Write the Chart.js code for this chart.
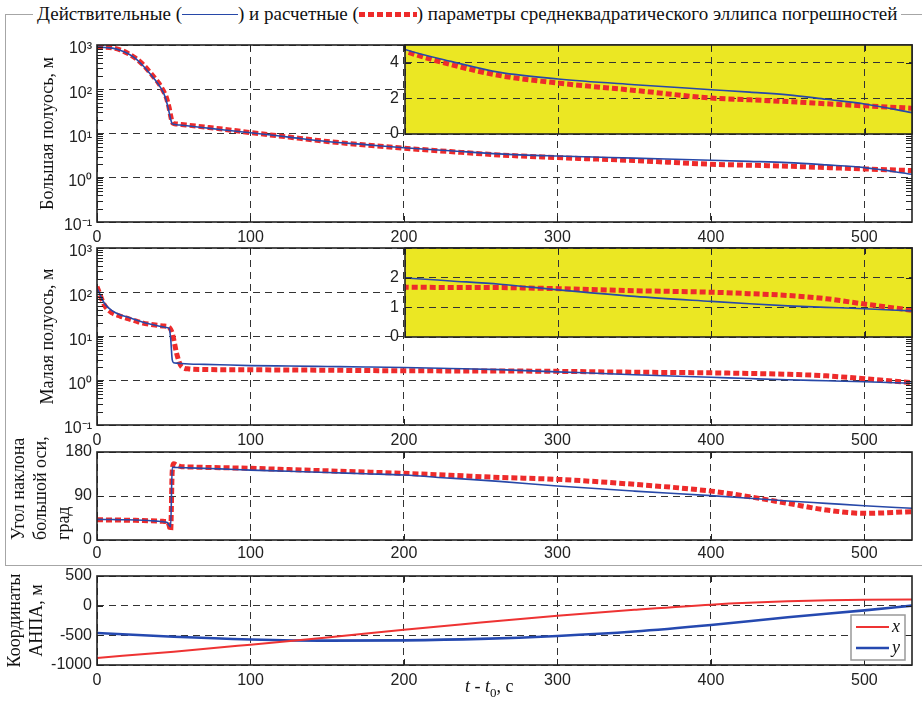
<!DOCTYPE html>
<html>
<head>
<meta charset="utf-8">
<script src="https://cdn.jsdelivr.net/npm/chart.js@4.4.0/dist/chart.umd.min.js"></script>
<style>
  body { margin: 0; background: #fff; }
  #wrap { position: relative; width: 922px; height: 707px; overflow: hidden; }
  #wrap canvas { position: absolute; left: 0; top: 0; }
  .box { position: absolute; left: 5px; top: 14px; width: 960px; height: 550px; border: 1px solid #a6a6a6; }
  .boxTitle { position: absolute; left: 33px; top: 2px; padding: 0 4px; background: #fff; white-space: nowrap;
              font: 19px 'Liberation Serif', 'Times New Roman', serif; line-height: 24px; color: #111; }
  .smpBlue { display: inline-block; width: 56px; height: 0; border-top: 1.5px solid #2748a8; vertical-align: 5px; }
  .smpRed { display: inline-block; width: 58px; height: 5px; vertical-align: 3px;
            background: repeating-linear-gradient(90deg, #ee2b2b 0 6px, transparent 6px 9px); }
  .xTitle { position: absolute; left: 465px; top: 676px; white-space: nowrap;
            font: 18px 'Liberation Serif', 'Times New Roman', serif; line-height: 20px; color: #111; }
</style>
</head>
<body>
<div id="wrap">
  <div class="box"></div>
  <div class="boxTitle">Действительные (<span class="smpBlue"></span>) и расчетные (<span class="smpRed"></span>) параметры среднеквадратического эллипса погрешностей</div>
  <canvas id="p1" width="922" height="707"></canvas>
  <canvas id="p1in" width="922" height="707"></canvas>
  <canvas id="p2" width="922" height="707"></canvas>
  <canvas id="p2in" width="922" height="707"></canvas>
  <canvas id="p3" width="922" height="707"></canvas>
  <canvas id="p4" width="922" height="707"></canvas>
  <div class="xTitle"><i>t</i> - <i>t</i><sub style="font-size:13px">0</sub>, с</div>
</div>

<script>
// time, s
const tMain = [0, 5, 10, 15, 20, 25, 30, 35, 40, 43, 45, 46, 47, 48, 49, 50, 52, 55, 60, 70, 80,
               100, 125, 150, 175, 200, 230, 262, 300, 350, 400, 425, 450, 475, 500, 531];
// major semi-axis, m
const majBlue = [900, 880, 850, 760, 640, 500, 340, 215, 130, 87, 58, 42, 30, 21, 16.6, 16.2, 15.8, 15.4, 14.8, 13.5, 12.3,
                 10.4, 8.3, 6.6, 5.6, 4.75, 4.08, 3.46, 3.09, 2.77, 2.49, 2.35, 2.20, 1.95, 1.69, 1.2];
const majRed = [920, 900, 860, 780, 650, 510, 360, 230, 140, 95, 68, 52, 38, 25, 18, 16.8, 16.4, 16.0, 15.3, 14.0, 12.8,
                10.5, 8.3, 6.6, 5.5, 4.65, 3.9, 3.28, 2.86, 2.45, 2.02, 1.92, 1.82, 1.70, 1.58, 1.45];
// minor semi-axis, m
const minBlue = [124, 55, 38, 31, 27.5, 24, 21, 19, 17.3, 16.5, 16, 15.8, 15.5, 9, 3.0, 2.55, 2.5, 2.45, 2.4, 2.35, 2.3,
                 2.2, 2.15, 2.1, 2.05, 1.99, 1.89, 1.78, 1.59, 1.37, 1.20, 1.12, 1.05, 1.0, 0.95, 0.88];
const minRed = [134, 50, 34, 29, 25.5, 22.5, 20, 18.8, 17.8, 17.3, 17, 16.8, 16.2, 14.5, 12, 8.5, 4.0, 2.1, 1.85, 1.8, 1.78,
                1.77, 1.75, 1.73, 1.7, 1.68, 1.67, 1.665, 1.63, 1.56, 1.51, 1.46, 1.40, 1.29, 1.11, 0.90];
// major axis angle, deg
const angBlue = [42.3, 42, 41.8, 41.5, 41.3, 41, 40.5, 39.5, 38.5, 37.5, 36.5, 35.5, 30, 27, 148.6, 148.5, 148.3, 148, 147.5, 146.5, 145.5,
                 143, 140.5, 138, 135.5, 133, 126.5, 120, 110.4, 100, 90.7, 85.3, 79.8, 75, 70.2, 64.8];
const angRed = [41.5, 41.2, 41, 40.8, 40.5, 40.2, 39.8, 39.3, 38.7, 38.2, 37.8, 37.4, 30, 19, 140, 156, 153, 150, 149.5, 148.5, 148,
                146.6, 144, 141.5, 139, 136.4, 132.5, 128, 124, 113.9, 100, 88.6, 75, 61.4, 54.5, 57.9];
// vehicle coordinates, m
const tCoord = [0, 50, 100, 150, 200, 250, 300, 350, 400, 450, 500, 531];
const coordX = [-881, -775, -657, -535, -404, -285, -168, -70, 17, 73, 101, 103];
const coordY = [-460, -525, -570, -590, -585, -560, -510, -435, -325, -195, -80, 0];

const timeTicks = [0, 100, 200, 300, 400, 500];
const logTicks = [0.1, 1, 10, 100, 1000];
const logTickLabels = ['10⁻¹', '10⁰', '10¹', '10²', '10³'];

const W = 922, H = 707, RIGHT = 10;
const tickFont = { family: "'Liberation Sans', Arial, sans-serif", size: 16 };
const serif = "'Liberation Serif', 'Times New Roman', serif";
const ink = '#222';
const blue = '#2748a8', red = '#ee2b2b';

const pts = (xs, ys) => xs.map((x, i) => ({ x: x, y: ys[i] }));

// box around plot area + inner tick marks (MATLAB look)
const frame = {
  id: 'frame',
  afterDraw(chart) {
    const { ctx, chartArea: a, scales } = chart;
    const ys = scales.y, xs = scales.x;
    let marks = ys.ticks.map(t => t.value);
    if (ys.type === 'logarithmic') {
      marks = [];
      for (let e = -1; e < 3; e++) for (let k = 1; k < 10; k++) marks.push(k * Math.pow(10, e));
    }
    ctx.save();
    ctx.strokeStyle = ink;
    ctx.lineWidth = 1;
    ctx.beginPath();
    marks.forEach(v => {
      const p = Math.round(ys.getPixelForValue(v)) + 0.5;
      ctx.moveTo(a.left, p); ctx.lineTo(a.left + 6, p);
      ctx.moveTo(a.right, p); ctx.lineTo(a.right - 6, p);
    });
    xs.ticks.forEach(t => {
      const p = Math.round(xs.getPixelForValue(t.value)) + 0.5;
      ctx.moveTo(p, a.top); ctx.lineTo(p, a.top + 6);
      ctx.moveTo(p, a.bottom); ctx.lineTo(p, a.bottom - 6);
    });
    ctx.stroke();
    ctx.lineWidth = 1.6;
    ctx.strokeRect(a.left, a.top, a.width, a.height);
    ctx.restore();
  }
};

const yellow = {
  id: 'yellow',
  beforeDraw(chart) {
    const { ctx, chartArea: a } = chart;
    ctx.save();
    ctx.fillStyle = '#ebe723';
    ctx.fillRect(a.left, a.top, a.width, a.height);
    ctx.restore();
  }
};

const coordLegend = {
  id: 'coordLegend',
  afterDraw(chart) {
    const { ctx, chartArea: a } = chart;
    const bx = a.right - 61, by = a.top + 39, bw = 54, bh = 45;
    ctx.save();
    ctx.fillStyle = '#fff';
    ctx.fillRect(bx, by, bw, bh);
    ctx.strokeStyle = '#999';
    ctx.lineWidth = 1.5;
    ctx.strokeRect(bx, by, bw, bh);
    chart.data.datasets.forEach((ds, i) => {
      const y = by + 12 + i * 21;
      ctx.strokeStyle = ds.borderColor;
      ctx.lineWidth = ds.borderWidth;
      ctx.beginPath(); ctx.moveTo(bx + 5, y); ctx.lineTo(bx + 38, y); ctx.stroke();
      ctx.fillStyle = '#111';
      ctx.font = 'italic 18px ' + serif;
      ctx.textBaseline = 'middle';
      ctx.fillText(ds.label, bx + 41, y);
    });
    ctx.restore();
  }
};

function xAxis(height, pad, showLabels, xmin) {
  return {
    type: 'linear', min: xmin, max: 531,
    afterBuildTicks: s => { s.ticks = timeTicks.filter(v => v >= xmin).map(v => ({ value: v })); },
    afterFit: s => { s.height = height; },
    grid: { color: '#333', lineWidth: 1, drawTicks: false },
    border: { display: false, dash: [7, 5] },
    ticks: { display: showLabels, padding: pad, font: tickFont, color: ink, maxRotation: 0, callback: v => String(v) }
  };
}

function yTitle(text, padTop, align) {
  return {
    display: true, text: text, align: align || 'center', color: '#111',
    font: { family: serif, size: 18, lineHeight: 1.25 },
    padding: { top: padTop, bottom: 0 }
  };
}

function baseOptions(top, bottom, scales) {
  return {
    responsive: false,
    animation: false,
    events: [],
    layout: { padding: { top: top, bottom: H - bottom - 28, left: 0, right: RIGHT } },
    plugins: { legend: { display: false }, tooltip: { enabled: false } },
    scales: scales
  };
}

function logY(title) {
  return {
    type: 'logarithmic', min: 0.1, max: 1000,
    afterBuildTicks: s => { s.ticks = logTicks.map(v => ({ value: v })); },
    afterFit: s => { s.width = 97; },
    grid: { color: '#333', lineWidth: 1, drawTicks: false },
    border: { display: false, dash: [7, 5] },
    ticks: {
      padding: 5, font: tickFont, color: ink, labelOffset: 4,
      callback: v => logTickLabels[logTicks.indexOf(v)]
    },
    title: title
  };
}

function linY(min, max, step, title) {
  return {
    type: 'linear', min: min, max: max,
    afterFit: s => { s.width = 97; },
    grid: { color: '#333', lineWidth: 1, drawTicks: false },
    border: { display: false, dash: [7, 5] },
    ticks: { stepSize: step, padding: 5, font: tickFont, color: ink, callback: v => String(v) },
    title: title
  };
}

function line(label, xs, ys, color, width, dash) {
  return {
    label: label, data: pts(xs, ys), borderColor: color, borderWidth: width,
    borderDash: dash || [], pointRadius: 0, cubicInterpolationMode: 'monotone', fill: false
  };
}

function mainPanel(id, top, bottom, xPad, yScale, datasets, plugins) {
  new Chart(document.getElementById(id), {
    type: 'line',
    data: { datasets: datasets },
    options: baseOptions(top, bottom, { x: xAxis(28, xPad, true, 0), y: yScale }),
    plugins: [frame].concat(plugins || [])
  });
}

function insetPanel(id, top, bottom, ymax, labelMax, datasets) {
  new Chart(document.getElementById(id), {
    type: 'line',
    data: { datasets: datasets },
    options: {
      responsive: false, animation: false, events: [],
      layout: { padding: { top: top, bottom: H - bottom, left: 0, right: RIGHT } },
      plugins: { legend: { display: false }, tooltip: { enabled: false } },
      scales: {
        x: xAxis(0, 0, false, 200),
        y: {
          type: 'linear', min: 0, max: ymax,
          afterFit: s => { s.width = 405; },
          grid: { color: '#333', lineWidth: 1, drawTicks: false },
          border: { display: false, dash: [7, 5] },
          ticks: { stepSize: 1, padding: 6, font: tickFont, color: ink,
                   callback: v => (v <= labelMax && v % (labelMax > 2 ? 2 : 1) === 0) ? String(v) : '' }
        }
      }
    },
    plugins: [yellow, frame]
  });
}

// panel 1: major semi-axis
mainPanel('p1', 45, 222, 6, logY(yTitle('Большая полуось, м', 37)), [
  line('Действительные', tMain, majBlue, blue, 1.6),
  line('Расчетные', tMain, majRed, red, 5, [6, 3])
]);
insetPanel('p1in', 45, 134, 5, 4, [
  line('Действительные', tMain, majBlue, blue, 1.6),
  line('Расчетные', tMain, majRed, red, 5, [6, 3])
]);

// panel 2: minor semi-axis
mainPanel('p2', 248, 425, 6, logY(yTitle('Малая полуось, м', 37)), [
  line('Действительные', tMain, minBlue, blue, 1.6),
  line('Расчетные', tMain, minRed, red, 5, [6, 3])
]);
insetPanel('p2in', 248, 337, 3, 2, [
  line('Действительные', tMain, minBlue, blue, 1.6),
  line('Расчетные', tMain, minRed, red, 5, [6, 3])
]);

// panel 3: tilt angle of major axis
mainPanel('p3', 452, 540, 4, linY(0, 180, 90, yTitle(['Угол наклона', 'большой оси,', 'град'], 8, 'start')), [
  line('Действительные', tMain, angBlue, blue, 1.6),
  line('Расчетные', tMain, angRed, red, 5, [6, 3])
]);

// panel 4: vehicle coordinates
mainPanel('p4', 576, 665, 6, linY(-1000, 500, 500, yTitle(['Координаты', 'АНПА, м'], 4)), [
  line('x', tCoord, coordX, '#ee3333', 2),
  line('y', tCoord, coordY, '#2549b0', 2.6)
], [coordLegend]);
</script>
</body>
</html>
